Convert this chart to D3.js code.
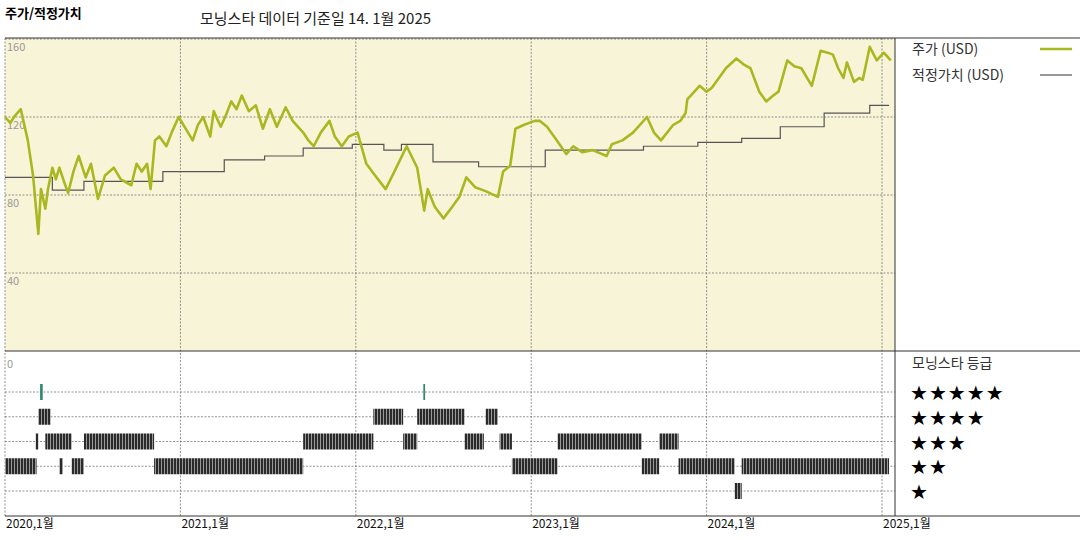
<!DOCTYPE html>
<html><head><meta charset="utf-8">
<script src="https://cdn.jsdelivr.net/npm/d3@7"></script>
<style>body{margin:0;background:#fff;font-family:"Noto Sans CJK KR","DejaVu Sans",sans-serif}</style>
</head><body><div id="chart"></div>
<script>
// price (decimal year, USD)
const priceYears = [2020.00,2020.03,2020.06,2020.09,2020.13,2020.16,2020.19,2020.205,2020.23,2020.245,2020.27,2020.29,2020.31,2020.34,2020.36,2020.39,2020.42,2020.46,2020.49,2020.53,2020.57,2020.62,2020.66,2020.72,2020.75,2020.78,2020.81,2020.83,2020.855,2020.88,2020.92,2020.95,2020.99,2021.03,2021.07,2021.10,2021.13,2021.17,2021.19,2021.23,2021.26,2021.29,2021.32,2021.35,2021.39,2021.43,2021.47,2021.51,2021.55,2021.60,2021.64,2021.70,2021.73,2021.76,2021.80,2021.85,2021.88,2021.92,2021.96,2022.01,2022.06,2022.11,2022.17,2022.22,2022.29,2022.35,2022.39,2022.41,2022.45,2022.50,2022.55,2022.59,2022.63,2022.68,2022.74,2022.81,2022.84,2022.88,2022.91,2022.96,2023.02,2023.05,2023.09,2023.13,2023.20,2023.24,2023.29,2023.35,2023.43,2023.46,2023.52,2023.58,2023.62,2023.66,2023.70,2023.74,2023.81,2023.85,2023.88,2023.89,2023.96,2024.00,2024.03,2024.07,2024.11,2024.17,2024.21,2024.25,2024.30,2024.34,2024.38,2024.41,2024.46,2024.50,2024.54,2024.60,2024.65,2024.69,2024.72,2024.75,2024.78,2024.80,2024.84,2024.87,2024.89,2024.93,2024.97,2025.01,2025.05];
const priceValues = [120,117,121,124,108,90,60,83,73,83,94,88,94,86,81,92,100,89,96,78,90,94,88,85,96,92,96,83,108,110,105,112,120,114,108,116,120,110,123,115,121,128,124,131,123,126,114,124,115,125,118,112,108,105,112,118,110,105,110,112,96,90,83,92,105,94,72,83,74,68,74,79,89,84,82,79,92,95,114,116,118,118,115,110,101,105,102,103,100,106,108,112,116,120,112,108,116,118,122,129,136,133,135,140,145,150,147,145,133,128,131,133,149,146,145,136,154,153,152,145,140,148,138,140,139,156,149,153,149];
// fair value steps: value holds from start year
const fairStarts = [2020.00,2020.27,2020.45,2020.90,2021.25,2021.48,2021.70,2021.98,2022.16,2022.26,2022.44,2022.70,2023.08,2023.64,2023.95,2024.20,2024.42,2024.67,2024.93,2025.04];
const fairValues = [89,82.5,87,92,98,100,104,106,103,106,97,94.5,103,105,107,109,115,122,126,126];
// star rating periods [rating, from, to]
const ratingPeriods = [
  [5,2020.20,2020.215],[5,2022.385,2022.395],
  [4,2020.19,2020.26],[4,2022.10,2022.27],[4,2022.35,2022.62],[4,2022.74,2022.81],
  [3,2020.175,2020.19],[3,2020.23,2020.38],[3,2020.45,2020.85],[3,2021.70,2022.10],[3,2022.27,2022.35],[3,2022.62,2022.73],[3,2022.82,2022.89],[3,2023.15,2023.63],[3,2023.73,2023.84],
  [2,2020.00,2020.18],[2,2020.31,2020.33],[2,2020.38,2020.45],[2,2020.85,2021.70],[2,2022.89,2023.15],[2,2023.63,2023.73],[2,2023.84,2024.16],[2,2024.20,2025.04],
  [1,2024.16,2024.20]
];
const yearTicks = [2020,2021,2022,2023,2024,2025];
const priceTicks = [160,120,80,40];

const W = 1080, H = 540, L = 5, R = 895;
const svg = d3.select("#chart").append("svg").attr("width", W).attr("height", H);

const x = d3.scaleLinear().domain([2020, 2025.074]).range([L, R]);
const y = d3.scaleLinear().domain([0, 160]).range([351, 39]);
const yr = d3.scaleLinear().domain([5, 1]).range([392, 491]);

// backgrounds
svg.append("rect").attr("x", L).attr("y", 38).attr("width", R - L).attr("height", 313).attr("fill", "#f8f4d8");

// titles
svg.append("text").attr("x", 5).attr("y", 18).attr("font-size", 13).attr("font-weight", "bold").text("주가/적정가치");
svg.append("text").attr("x", 200).attr("y", 24).attr("font-size", 15).attr("fill", "#222").text("모닝스타 데이터 기준일 14. 1월 2025");

// grids
const grid = svg.append("g").attr("stroke", "#777").attr("stroke-dasharray", "2,1.5").attr("stroke-width", 0.8);
yearTicks.forEach(t => grid.append("line").attr("x1", x(t)).attr("x2", x(t)).attr("y1", 38).attr("y2", 516));
priceTicks.forEach(t => grid.append("line").attr("x1", L).attr("x2", R).attr("y1", y(t)).attr("y2", y(t)));
[5, 4, 3, 2, 1].forEach(r => grid.append("line").attr("x1", L).attr("x2", R).attr("y1", yr(r)).attr("y2", yr(r)));

priceTicks.concat([0]).forEach(t => svg.append("text").attr("x", 7).attr("y", t === 0 ? 368 : y(t) + 12)
  .attr("font-size", 11).attr("fill", "#999").text(t));

// fair value
const fair = fairStarts.map((s, i) => ({ t: s, v: fairValues[i] }));
svg.append("path").datum(fair).attr("fill", "none").attr("stroke", "#555").attr("stroke-width", 1.2)
  .attr("d", d3.line().x(d => x(d.t)).y(d => y(d.v)).curve(d3.curveStepAfter));

// price
const price = priceYears.map((t, i) => ({ t, v: priceValues[i] }));
svg.append("path").datum(price).attr("fill", "none").attr("stroke", "#a9b820").attr("stroke-width", 2.6)
  .attr("stroke-linejoin", "round").attr("d", d3.line().x(d => x(d.t)).y(d => y(d.v)));

// rating bars with stripes
const defs = svg.append("defs");
const pat = defs.append("pattern").attr("id", "stripe").attr("patternUnits", "userSpaceOnUse").attr("width", 3).attr("height", 20);
pat.append("rect").attr("width", 3).attr("height", 20).attr("fill", "#2a2a2a");
pat.append("rect").attr("x", 2).attr("width", 1).attr("height", 20).attr("fill", "#999");
svg.append("g").selectAll("rect").data(ratingPeriods).join("rect")
  .attr("x", d => x(d[1])).attr("width", d => Math.max(1.5, x(d[2]) - x(d[1])))
  .attr("y", d => yr(d[0]) - 8).attr("height", 16)
  .attr("fill", d => d[0] === 5 ? "#2e8a6a" : "url(#stripe)");

// frame
const fr = svg.append("g").attr("stroke", "#333").attr("stroke-width", 1);
fr.append("line").attr("x1", L).attr("x2", W).attr("y1", 38).attr("y2", 38);
fr.append("line").attr("x1", L).attr("x2", W).attr("y1", 351).attr("y2", 351);
fr.append("line").attr("x1", L).attr("x2", W).attr("y1", 516).attr("y2", 516);
fr.append("line").attr("x1", R).attr("x2", R).attr("y1", 38).attr("y2", 516);

// x labels
yearTicks.forEach(t => svg.append("text").attr("x", x(t) + 1).attr("y", 528).attr("font-size", 12).attr("fill", "#111").text(t + ",1월"));

// legend
svg.append("text").attr("x", 912).attr("y", 54).attr("font-size", 14).attr("fill", "#333").text("주가 (USD)");
svg.append("line").attr("x1", 1040).attr("x2", 1072).attr("y1", 49).attr("y2", 49).attr("stroke", "#a9b820").attr("stroke-width", 2.5);
svg.append("text").attr("x", 912).attr("y", 80).attr("font-size", 14).attr("fill", "#333").text("적정가치 (USD)");
svg.append("line").attr("x1", 1040).attr("x2", 1072).attr("y1", 75).attr("y2", 75).attr("stroke", "#555").attr("stroke-width", 1.2);
svg.append("text").attr("x", 912).attr("y", 368).attr("font-size", 14).attr("fill", "#333").text("모닝스타 등급");
[5, 4, 3, 2, 1].forEach(r => svg.append("text").attr("x", 910).attr("y", yr(r) + 8)
  .attr("font-size", 20).attr("font-family", "DejaVu Sans").attr("letter-spacing", 1).text("★".repeat(r)));
</script></body></html>
